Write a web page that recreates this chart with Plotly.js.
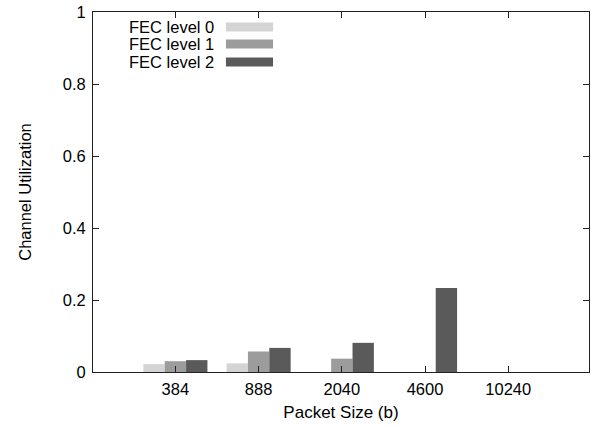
<!DOCTYPE html>
<html><head><meta charset="utf-8">
<script src="https://cdn.plot.ly/plotly-3.0.1.min.js"></script>
<style>html,body{margin:0;padding:0;background:#fff;}#chart{width:591px;height:426px;}</style>
</head><body><div id="chart"></div>
<script>
const categories = ["384", "888", "2040", "4600", "10240"];
const seriesNames = ["FEC level 0", "FEC level 1", "FEC level 2"];
const fec0 = [0.022, 0.024, 0, 0, 0];
const fec1 = [0.030, 0.057, 0.037, 0, 0];
const fec2 = [0.033, 0.067, 0.081, 0.233, 0];
const yTicks = [0, 0.2, 0.4, 0.6, 0.8, 1];
const yTickText = ["0", "0.2", "0.4", "0.6", "0.8", "1"];
const colors = ["#d4d4d4", "#9c9c9c", "#5a5a5a"];

const FONT = "Liberation Sans, Arial, Helvetica, sans-serif";
const allSeries = [fec0, fec1, fec2];
const traces = allSeries.map((vals, i) => ({
  type: "bar", x: categories, y: vals, name: seriesNames[i],
  marker: {color: colors[i], line: {width: 0}}, showlegend: false
}));

// gnuplot-style key: text then swatch, built from the series names/colours
const annotations = [];
const shapes = [];
const rowY = [0.958, 0.911, 0.861];
seriesNames.forEach((name, i) => {
  annotations.push({xref: "paper", yref: "paper", x: 0.248, y: rowY[i], xanchor: "right", yanchor: "middle",
    text: name, showarrow: false, font: {family: FONT, size: 16.5, color: "#000"}});
  shapes.push({type: "rect", xref: "paper", yref: "paper", x0: 0.268, x1: 0.363,
    y0: rowY[i] - 0.0125, y1: rowY[i] + 0.0125, fillcolor: colors[i], line: {width: 0}});
});

const layout = {
  width: 591, height: 426,
  margin: {l: 93, r: 2, t: 12, b: 54},
  paper_bgcolor: "#fff", plot_bgcolor: "#fff",
  barmode: "group", bargap: 0.23, bargroupgap: 0,
  showlegend: false,
  font: {family: FONT, size: 16, color: "#000"},
  xaxis: {
    type: "category", range: [-0.99, 4.97],
    showline: true, linecolor: "#222", linewidth: 1, mirror: "ticks",
    ticks: "inside", ticklen: 6, tickcolor: "#222",
    showgrid: false, zeroline: false, ticklabelstandoff: 2,
    tickfont: {family: FONT, size: 16.5, color: "#000"},
    title: {text: "Packet Size (b)", font: {family: FONT, size: 17, color: "#000"}, standoff: 9}
  },
  yaxis: {
    range: [0, 1], tickvals: yTicks, ticktext: yTickText,
    showline: true, linecolor: "#222", linewidth: 1, mirror: "ticks",
    ticks: "inside", ticklen: 6, tickcolor: "#222",
    showgrid: false, zeroline: false, ticklabelstandoff: 3,
    tickfont: {family: FONT, size: 16.5, color: "#000"},
    title: {text: "Channel Utilization", font: {family: FONT, size: 16.5, color: "#000"}, standoff: 26}
  },
  annotations: annotations,
  shapes: shapes
};
Plotly.newPlot("chart", traces, layout, {staticPlot: true, displayModeBar: false});
</script></body></html>
